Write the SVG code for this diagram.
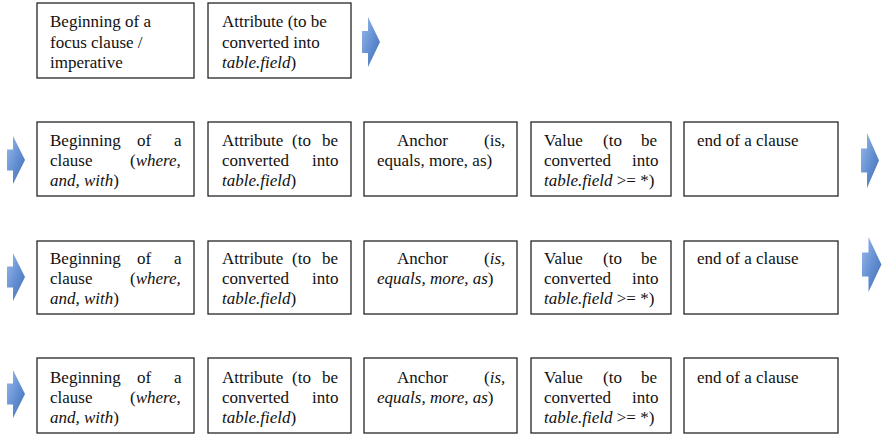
<svg xmlns="http://www.w3.org/2000/svg" width="885" height="434" viewBox="0 0 885 434">
  <style>
    .box { fill: #ffffff; stroke: #262626; stroke-width: 1.3; }
    .arrow { fill: url(#blue); }
    .i { font-style: italic; }
  </style>
  <defs>
    <linearGradient id="blue" x1="0" y1="0" x2="1" y2="1">
      <stop offset="0" stop-color="#9dbcea"/>
      <stop offset="0.45" stop-color="#6a95d6"/>
      <stop offset="1" stop-color="#3d6bb4"/>
    </linearGradient>
  </defs>

  <rect width="885" height="434" fill="#ffffff"/>

  <!-- flow arrows (block arrow shape, 18 x 50 before scaling) -->
  <g id="connectors">
    <path class="arrow" transform="translate(362,17)" d="M0,14 L6,14 L6,0 L18,25 L6,50 L6,36 L0,36 Z"/>
    <path class="arrow" transform="translate(7,136) scale(1,0.96)" d="M0,14 L6,14 L6,0 L18,25 L6,50 L6,36 L0,36 Z"/>
    <path class="arrow" transform="translate(861,133) scale(1,1.1)" d="M0,14 L6,14 L6,0 L18,25 L6,50 L6,36 L0,36 Z"/>
    <path class="arrow" transform="translate(7,253) scale(1,0.96)" d="M0,14 L6,14 L6,0 L18,25 L6,50 L6,36 L0,36 Z"/>
    <path class="arrow" transform="translate(862,237) scale(1.08,1.1)" d="M0,14 L6,14 L6,0 L18,25 L6,50 L6,36 L0,36 Z"/>
    <path class="arrow" transform="translate(7,370) scale(1,0.96)" d="M0,14 L6,14 L6,0 L18,25 L6,50 L6,36 L0,36 Z"/>
  </g>

  <g id="nodes" font-family="Liberation Serif, serif" font-size="17" fill="#111111">
  <!-- row 1 -->
  <g id="r1-begin">
    <rect class="box" x="37" y="3" width="157" height="75"/>
    <text font-family="Liberation Serif, serif" font-size="17"><tspan x="50" y="27">Beginning of a</tspan><tspan x="50" y="48">focus clause /</tspan><tspan x="50" y="68">imperative</tspan></text>
  </g>
  <g id="r1-attr">
    <rect class="box" x="208" y="3" width="143" height="75"/>
    <text font-family="Liberation Serif, serif" font-size="17"><tspan x="222" y="27">Attribute (to be</tspan><tspan x="222" y="48">converted into</tspan><tspan x="222" y="68" class="i">table.field</tspan><tspan>)</tspan></text>
  </g>

  <!-- row 2 -->
  <g id="r2-begin">
    <rect class="box" x="37" y="122" width="157" height="74"/>
    <text font-family="Liberation Serif, serif" font-size="17"><tspan x="50" y="146">Beginning</tspan><tspan x="137" y="146">of</tspan><tspan x="174" y="146">a</tspan></text>
    <text font-family="Liberation Serif, serif" font-size="17"><tspan x="50" y="166">clause</tspan><tspan x="130" y="166">(</tspan><tspan class="i">where,</tspan></text>
    <text font-family="Liberation Serif, serif" font-size="17"><tspan x="50" y="186" class="i">and, with</tspan><tspan>)</tspan></text>
  </g>
  <g id="r2-attr">
    <rect class="box" x="208" y="122" width="143" height="74"/>
    <text font-family="Liberation Serif, serif" font-size="17"><tspan x="222" y="146">Attribute</tspan><tspan x="292" y="146">(to</tspan><tspan x="322" y="146">be</tspan></text>
    <text font-family="Liberation Serif, serif" font-size="17"><tspan x="222" y="166">converted</tspan><tspan x="312" y="166">into</tspan></text>
    <text font-family="Liberation Serif, serif" font-size="17"><tspan x="222" y="186" class="i">table.field</tspan><tspan>)</tspan></text>
  </g>
  <g id="r2-anchor">
    <rect class="box" x="364" y="122" width="153" height="74"/>
    <text font-family="Liberation Serif, serif" font-size="17"><tspan x="397" y="146">Anchor</tspan><tspan x="484" y="146">(is,</tspan></text>
    <text font-family="Liberation Serif, serif" font-size="17"><tspan x="377" y="166">equals, more, as)</tspan></text>
  </g>
  <g id="r2-value">
    <rect class="box" x="531" y="122" width="140" height="74"/>
    <text font-family="Liberation Serif, serif" font-size="17"><tspan x="544" y="146">Value</tspan><tspan x="603" y="146">(to</tspan><tspan x="641" y="146">be</tspan></text>
    <text font-family="Liberation Serif, serif" font-size="17"><tspan x="544" y="166">converted</tspan><tspan x="632" y="166">into</tspan></text>
    <text font-family="Liberation Serif, serif" font-size="17"><tspan x="544" y="186" class="i">table.field</tspan><tspan> &gt;= *)</tspan></text>
  </g>
  <g id="r2-end">
    <rect class="box" x="684" y="122" width="154" height="74"/>
    <text font-family="Liberation Serif, serif" font-size="17" x="697" y="146">end of a clause</text>
  </g>

  <!-- row 3 -->
  <g id="r3-begin">
    <rect class="box" x="37" y="241" width="157" height="73"/>
    <text font-family="Liberation Serif, serif" font-size="17"><tspan x="50" y="264">Beginning</tspan><tspan x="137" y="264">of</tspan><tspan x="174" y="264">a</tspan></text>
    <text font-family="Liberation Serif, serif" font-size="17"><tspan x="50" y="284">clause</tspan><tspan x="130" y="284">(</tspan><tspan class="i">where,</tspan></text>
    <text font-family="Liberation Serif, serif" font-size="17"><tspan x="50" y="304" class="i">and, with</tspan><tspan>)</tspan></text>
  </g>
  <g id="r3-attr">
    <rect class="box" x="208" y="241" width="143" height="73"/>
    <text font-family="Liberation Serif, serif" font-size="17"><tspan x="222" y="264">Attribute</tspan><tspan x="292" y="264">(to</tspan><tspan x="322" y="264">be</tspan></text>
    <text font-family="Liberation Serif, serif" font-size="17"><tspan x="222" y="284">converted</tspan><tspan x="312" y="284">into</tspan></text>
    <text font-family="Liberation Serif, serif" font-size="17"><tspan x="222" y="304" class="i">table.field</tspan><tspan>)</tspan></text>
  </g>
  <g id="r3-anchor">
    <rect class="box" x="364" y="241" width="153" height="73"/>
    <text font-family="Liberation Serif, serif" font-size="17"><tspan x="397" y="264">Anchor</tspan><tspan x="484" y="264">(</tspan><tspan class="i">is,</tspan></text>
    <text font-family="Liberation Serif, serif" font-size="17"><tspan x="377" y="284" class="i">equals, more, as</tspan><tspan>)</tspan></text>
  </g>
  <g id="r3-value">
    <rect class="box" x="531" y="241" width="140" height="73"/>
    <text font-family="Liberation Serif, serif" font-size="17"><tspan x="544" y="264">Value</tspan><tspan x="603" y="264">(to</tspan><tspan x="641" y="264">be</tspan></text>
    <text font-family="Liberation Serif, serif" font-size="17"><tspan x="544" y="284">converted</tspan><tspan x="632" y="284">into</tspan></text>
    <text font-family="Liberation Serif, serif" font-size="17"><tspan x="544" y="304" class="i">table.field</tspan><tspan> &gt;= *)</tspan></text>
  </g>
  <g id="r3-end">
    <rect class="box" x="684" y="241" width="154" height="73"/>
    <text font-family="Liberation Serif, serif" font-size="17" x="697" y="264">end of a clause</text>
  </g>

  <!-- row 4 -->
  <g id="r4-begin">
    <rect class="box" x="37" y="358" width="157" height="75"/>
    <text font-family="Liberation Serif, serif" font-size="17"><tspan x="50" y="383">Beginning</tspan><tspan x="137" y="383">of</tspan><tspan x="174" y="383">a</tspan></text>
    <text font-family="Liberation Serif, serif" font-size="17"><tspan x="50" y="403">clause</tspan><tspan x="130" y="403">(</tspan><tspan class="i">where,</tspan></text>
    <text font-family="Liberation Serif, serif" font-size="17"><tspan x="50" y="423" class="i">and, with</tspan><tspan>)</tspan></text>
  </g>
  <g id="r4-attr">
    <rect class="box" x="208" y="358" width="143" height="75"/>
    <text font-family="Liberation Serif, serif" font-size="17"><tspan x="222" y="383">Attribute</tspan><tspan x="292" y="383">(to</tspan><tspan x="322" y="383">be</tspan></text>
    <text font-family="Liberation Serif, serif" font-size="17"><tspan x="222" y="403">converted</tspan><tspan x="312" y="403">into</tspan></text>
    <text font-family="Liberation Serif, serif" font-size="17"><tspan x="222" y="423" class="i">table.field</tspan><tspan>)</tspan></text>
  </g>
  <g id="r4-anchor">
    <rect class="box" x="364" y="358" width="153" height="75"/>
    <text font-family="Liberation Serif, serif" font-size="17"><tspan x="397" y="383">Anchor</tspan><tspan x="484" y="383">(</tspan><tspan class="i">is,</tspan></text>
    <text font-family="Liberation Serif, serif" font-size="17"><tspan x="377" y="403" class="i">equals, more, as</tspan><tspan>)</tspan></text>
  </g>
  <g id="r4-value">
    <rect class="box" x="531" y="358" width="140" height="75"/>
    <text font-family="Liberation Serif, serif" font-size="17"><tspan x="544" y="383">Value</tspan><tspan x="603" y="383">(to</tspan><tspan x="641" y="383">be</tspan></text>
    <text font-family="Liberation Serif, serif" font-size="17"><tspan x="544" y="403">converted</tspan><tspan x="632" y="403">into</tspan></text>
    <text font-family="Liberation Serif, serif" font-size="17"><tspan x="544" y="423" class="i">table.field</tspan><tspan> &gt;= *)</tspan></text>
  </g>
  <g id="r4-end">
    <rect class="box" x="684" y="358" width="154" height="75"/>
    <text font-family="Liberation Serif, serif" font-size="17" x="697" y="383">end of a clause</text>
  </g>
  </g>
</svg>
